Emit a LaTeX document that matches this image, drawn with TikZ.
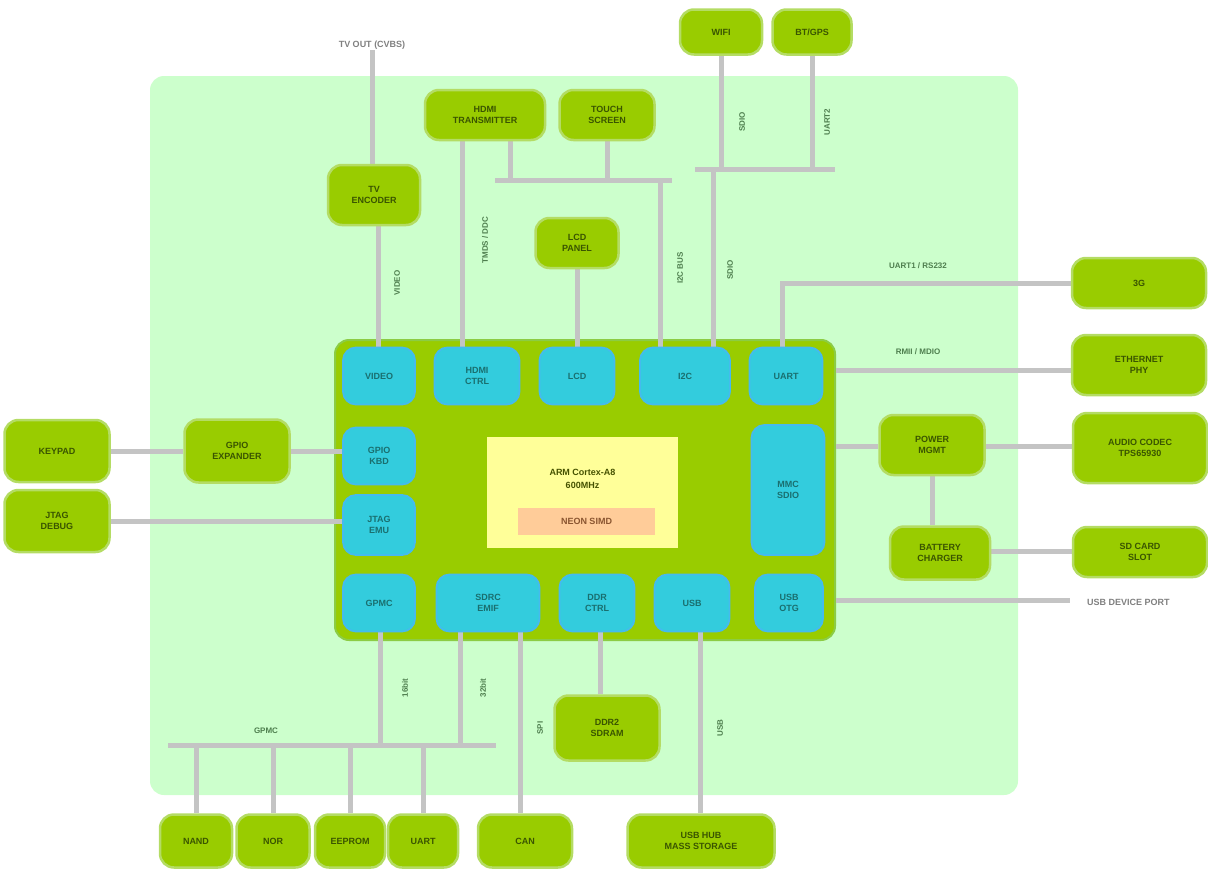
\documentclass[tikz,border=0pt]{standalone}
\usepackage{fontspec}
\setmainfont{Liberation Sans}
\usetikzlibrary{calc}
\definecolor{bgc}{HTML}{CCFFCC}
\definecolor{gfill}{HTML}{99CC00}
\definecolor{gedge}{HTML}{B4DC64}
\definecolor{gtext}{HTML}{3A5500}
\definecolor{cfill}{HTML}{33CCDD}
\definecolor{cedge}{HTML}{44BBEE}
\definecolor{ctext}{HTML}{1A6F6F}
\definecolor{chipedge}{HTML}{8CCC44}
\definecolor{corefill}{HTML}{FFFF99}
\definecolor{neonfill}{HTML}{FFCC99}
\definecolor{neontext}{HTML}{8A5530}
\definecolor{lgray}{HTML}{C4C4C4}
\definecolor{ltext}{HTML}{4E7E4E}
\definecolor{gtxt}{HTML}{808080}
\pgfdeclarelayer{bg}
\pgfdeclarelayer{lines}
\pgfsetlayers{bg,lines,main}
\tikzset{
  gnode/.style={rounded corners=14pt, fill=gfill, draw=gedge, line width=2.5pt,
    font=\bfseries\fontsize{9}{11}\selectfont, text=gtext, align=center, inner sep=1pt},
  cnode/.style={rounded corners=13pt, fill=cfill, draw=cedge, line width=1.8pt,
    font=\bfseries\fontsize{9}{11}\selectfont, text=ctext, align=center, inner sep=1pt},
  chipbox/.style={rounded corners=14pt, fill=gfill, draw=chipedge, line width=2pt},
  corebox/.style={fill=corefill, draw=none},
  neonbox/.style={fill=neonfill, draw=none, font=\bfseries\fontsize{9}{11}\selectfont, text=neontext},
  coretext/.style={font=\bfseries\fontsize{9}{13}\selectfont, text=gtext!70!yellow!60!black, align=center},
  conn/.style={draw=lgray, line width=5pt},
  vlabel/.style={rotate=90, font=\bfseries\fontsize{8}{9}\selectfont, text=ltext, inner sep=1pt},
  hlabel/.style={font=\bfseries\fontsize{8}{9}\selectfont, text=ltext, inner sep=1pt},
  glabel/.style={font=\bfseries\fontsize{9}{11}\selectfont, text=gtxt, inner sep=1pt}
}
\begin{document}
\begin{tikzpicture}[x=1pt,y=-1pt]
\useasboundingbox (0,0) rectangle (1208,870);
\begin{pgfonlayer}{bg}
  \fill[bgc, rounded corners=14pt] (150,76) rectangle (1018,795);
  \node[chipbox, minimum width=500pt, minimum height=300pt] (chip) at (585,490) {};
  \node[corebox, minimum width=191pt, minimum height=111pt] (core) at (582.5,492.5) {};
  \node[neonbox, minimum width=137pt, minimum height=27pt] (neon) at (586.5,521.5) {NEON SIMD};
  \node[coretext] (cortex) at (582.5,479) {ARM Cortex-A8\\600MHz};
\end{pgfonlayer}

% cyan blocks, top row
\node[cnode, minimum width=72pt, minimum height=57pt] (t1) at (379,376) {VIDEO};
\node[cnode, minimum width=85pt, minimum height=57pt] (t2) at (477,376) {HDMI\\CTRL};
\node[cnode, minimum width=75pt, minimum height=57pt] (t3) at (577,376) {LCD};
\node[cnode, minimum width=90pt, minimum height=57pt] (t4) at (685,376) {I2C};
\node[cnode, minimum width=73pt, minimum height=57pt] (t5) at (786,376) {UART};
% left column
\node[cnode, minimum width=72pt, minimum height=57pt] (l1) at (379,456) {GPIO\\KBD};
\node[cnode, minimum width=72pt, minimum height=60pt] (l2) at (379,525) {JTAG\\EMU};
% right tall
\node[cnode, minimum width=73pt, minimum height=130pt] (rt) at (788,490) {MMC\\SDIO};
% bottom row
\node[cnode, minimum width=72pt, minimum height=57pt] (bb1) at (379,603) {GPMC};
\node[cnode, minimum width=103pt, minimum height=57pt] (bb2) at (488,603) {SDRC\\EMIF};
\node[cnode, minimum width=75pt, minimum height=57pt] (bb3) at (597,603) {DDR\\CTRL};
\node[cnode, minimum width=75pt, minimum height=57pt] (bb4) at (692,603) {USB};
\node[cnode, minimum width=68pt, minimum height=57pt] (bb5) at (789,603) {USB\\OTG};

% green peripheral nodes
\node[glabel] (tvout) at (372,45) {TV OUT (CVBS)};
\node[gnode, minimum width=92pt, minimum height=60pt] (tvenc) at (374,195) {TV\\ENCODER};
\node[gnode, minimum width=120pt, minimum height=50pt] (hdmi) at (485,115) {HDMI\\TRANSMITTER};
\node[gnode, minimum width=95pt, minimum height=50pt] (touch) at (607,115) {TOUCH\\SCREEN};
\node[gnode, minimum width=83pt, minimum height=50pt] (lcd) at (577,243) {LCD\\PANEL};
\node[gnode, minimum width=82pt, minimum height=45pt] (wifi) at (721,32) {WIFI};
\node[gnode, minimum width=79pt, minimum height=45pt] (bt) at (812,32) {BT/GPS};
\node[gnode, minimum width=134pt, minimum height=50pt] (r1) at (1139,283) {3G};
\node[gnode, minimum width=134pt, minimum height=60pt] (r2) at (1139,365) {ETHERNET\\PHY};
\node[gnode, minimum width=134pt, minimum height=70pt] (r3) at (1140,448) {AUDIO CODEC\\TPS65930};
\node[gnode, minimum width=134pt, minimum height=50pt] (r4) at (1140,552) {SD CARD\\SLOT};
\node[gnode, minimum width=105pt, minimum height=60pt] (pm) at (932,445) {POWER\\MGMT};
\node[gnode, minimum width=100pt, minimum height=53pt] (bc) at (940,553) {BATTERY\\CHARGER};
\node[glabel, anchor=west] (usbdev) at (1086,602) {USB DEVICE PORT};
\node[gnode, minimum width=105pt, minimum height=62pt] (kp) at (57,451) {KEYPAD};
\node[gnode, minimum width=105pt, minimum height=62pt] (jtag) at (57,521) {JTAG\\DEBUG};
\node[gnode, minimum width=105pt, minimum height=63pt] (gpx) at (237,451) {GPIO\\EXPANDER};
\node[gnode, minimum width=105pt, minimum height=65pt] (ddr) at (607,728) {DDR2\\SDRAM};
\node[gnode, minimum width=72pt, minimum height=53pt] (b1) at (196,841) {NAND};
\node[gnode, minimum width=73pt, minimum height=53pt] (b2) at (273,841) {NOR};
\node[gnode, minimum width=70pt, minimum height=53pt] (b3) at (350,841) {EEPROM};
\node[gnode, minimum width=70pt, minimum height=53pt] (b4) at (423,841) {UART};
\node[gnode, minimum width=94pt, minimum height=53pt] (b5) at (525,841) {CAN};
\node[gnode, minimum width=147pt, minimum height=53pt] (b6) at (701,841) {USB HUB\\MASS STORAGE};

% helper coordinates
\coordinate (x378) at (378,0);
\coordinate (x462) at (462,0);
\coordinate (x510) at (510,0);
\coordinate (x660) at (660,0);
\coordinate (x713) at (713,0);
\coordinate (x782) at (782,0);
\coordinate (x380) at (380,0);
\coordinate (x460) at (460,0);
\coordinate (x520) at (520,0);
\coordinate (x600) at (600,0);
\coordinate (x700) at (700,0);
\coordinate (busA) at (495,180);
\coordinate (busB) at (672,180);
\coordinate (busC) at (695,169);
\coordinate (busD) at (835,169);
\coordinate (busE) at (168,745);
\coordinate (busF) at (496,745);
\coordinate (r1c) at (782,283);
\coordinate (usbend) at (1070,600);
\coordinate (y370) at (0,370);
\coordinate (y445) at (0,446);
\coordinate (y550) at (0,551);
\coordinate (y600) at (0,600);
\coordinate (y521) at (0,521);

\begin{pgfonlayer}{lines}
  % top
  \draw[conn] (tvout.south) -- (tvout.south |- tvenc.north);
  \draw[conn] (tvenc.south -| x378) -- (t1.north -| x378);
  \draw[conn] (hdmi.south -| x462) -- (t2.north -| x462);
  \draw[conn] (busA) -- (busB);
  \draw[conn] (hdmi.south -| x510) -- (busA -| x510);
  \draw[conn] (touch.south) -- (touch.south |- busA);
  \draw[conn] (busA -| x660) -- (t4.north -| x660);
  \draw[conn] (busC) -- (busD);
  \draw[conn] (wifi.south) -- (wifi.south |- busC);
  \draw[conn] (bt.south) -- (bt.south |- busC);
  \draw[conn] (busC -| x713) -- (t4.north -| x713);
  \draw[conn] (lcd.south) -- (t3.north);
  % right
  \draw[conn] (r1.west) -- (r1c) -- (t5.north -| x782);
  \draw[conn] (r2.west |- y370) -- (chip.east |- y370);
  \draw[conn] (chip.east |- y445) -- (pm.west |- y445);
  \draw[conn] (pm.east |- y445) -- (r3.west |- y445);
  \draw[conn] (pm.south) -- (pm.south |- bc.north);
  \draw[conn] (bc.east |- y550) -- (r4.west |- y550);
  \draw[conn] (chip.east |- y600) -- (usbend);
  % left
  \draw[conn] (kp.east) -- (gpx.west);
  \draw[conn] (gpx.east) -- (l1.west |- gpx.east);
  \draw[conn] (jtag.east |- y521) -- (l2.west |- y521);
  % bottom
  \draw[conn] (busE) -- (busF);
  \draw[conn] (bb1.south -| x380) -- (busE -| x380);
  \draw[conn] (bb2.south -| x460) -- (busE -| x460);
  \draw[conn] (busE -| b1.north) -- (b1.north);
  \draw[conn] (busE -| b2.north) -- (b2.north);
  \draw[conn] (busE -| b3.north) -- (b3.north);
  \draw[conn] (busE -| b4.north) -- (b4.north);
  \draw[conn] (bb2.south -| x520) -- (b5.north -| x520);
  \draw[conn] (bb3.south -| x600) -- (ddr.north -| x600);
  \draw[conn] (bb4.south -| x700) -- (b6.north -| x700);
\end{pgfonlayer}

% connector labels
\node[vlabel] (lb1) at (397,283) {VIDEO};
\node[vlabel] (lb2) at (485,240) {TMDS / DDC};
\node[vlabel] (lb3) at (680,268) {I2C BUS};
\node[vlabel] (lb4) at (730,270) {SDIO};
\node[vlabel] (lb5) at (742,122) {SDIO};
\node[vlabel] (lb6) at (827,122) {UART2};
\node[hlabel] (lb7) at (918,266) {UART1 / RS232};
\node[hlabel] (lb8) at (918,352) {RMII / MDIO};
\node[hlabel] (lb9) at (266,731) {GPMC};
\node[vlabel] (lb10) at (405,688) {16bit};
\node[vlabel] (lb11) at (483,688) {32bit};
\node[vlabel] (lb12) at (540,728) {SPI};
\node[vlabel] (lb13) at (720,728) {USB};
\end{tikzpicture}
\end{document}
